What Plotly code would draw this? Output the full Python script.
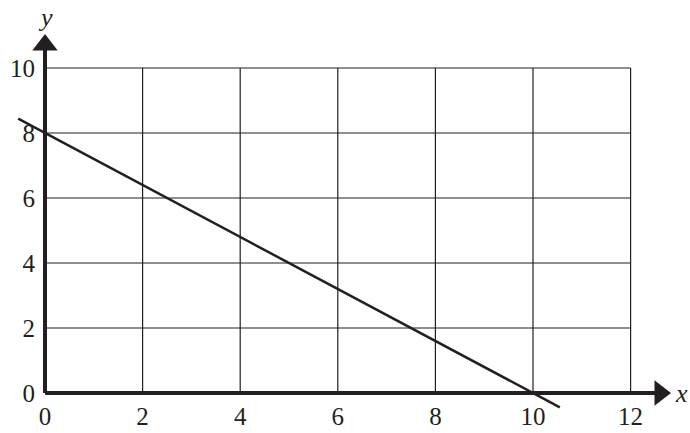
import plotly.graph_objects as go

# valores
x_ticks = [0, 2, 4, 6, 8, 10, 12]
y_ticks = [0, 2, 4, 6, 8, 10]
line_x = [-0.55, 10.55]
line_y = [8.44, -0.44]

INK = "#231f20"
FONT = "Liberation Serif, Times New Roman, serif"

W, H = 690, 433
# escala: px por unidade e posição da origem em px
px_x, px_y = 48.8, 32.5
ox, oy = 45, 393
x_range = [-ox / px_x, (W - ox) / px_x]
y_range = [-(H - oy) / px_y, oy / px_y]

fig = go.Figure()

# grade
shapes = []
for xv in x_ticks[1:]:
    shapes.append(dict(type="line", xref="x", yref="y", x0=xv, x1=xv,
                       y0=0, y1=max(y_ticks), line=dict(color=INK, width=1.2), layer="below"))
for yv in y_ticks[1:]:
    shapes.append(dict(type="line", xref="x", yref="y", x0=0, x1=max(x_ticks),
                       y0=yv, y1=yv, line=dict(color=INK, width=1.2), layer="below"))

# eixos com setas
x_end = (660 - ox) / px_x
y_end = (oy - 45) / px_y
fig.add_trace(go.Scatter(x=[0, x_end], y=[0, 0], mode="lines",
                         line=dict(color=INK, width=4), hoverinfo="skip"))
fig.add_trace(go.Scatter(x=[0, 0], y=[0, y_end], mode="lines",
                         line=dict(color=INK, width=4), hoverinfo="skip"))
fig.add_trace(go.Scatter(x=[x_end], y=[0], mode="markers",
                         marker=dict(symbol="triangle-right", size=22, color=INK), hoverinfo="skip"))
fig.add_trace(go.Scatter(x=[0], y=[y_end], mode="markers",
                         marker=dict(symbol="triangle-up", size=22, color=INK), hoverinfo="skip"))

# reta
fig.add_trace(go.Scatter(x=line_x, y=line_y, mode="lines",
                         line=dict(color=INK, width=2.5), hoverinfo="skip"))

fig.add_annotation(x=(681 - ox) / px_x, y=0, xref="x", yref="y", text="<i>x</i>",
                   showarrow=False, font=dict(family=FONT, size=26, color=INK))
fig.add_annotation(x=0, y=(oy - 17) / px_y, xref="x", yref="y", text="<i>y</i>",
                   showarrow=False, font=dict(family=FONT, size=26, color=INK))

tick_font = dict(family=FONT, size=25, color=INK)

fig.update_layout(
    width=W, height=H,
    margin=dict(l=0, r=0, t=0, b=0),
    paper_bgcolor="white", plot_bgcolor="white",
    showlegend=False,
    shapes=shapes,
    font=dict(family=FONT, size=25, color=INK),
    xaxis=dict(range=x_range, tickvals=x_ticks, showgrid=False, zeroline=False,
               showline=False, ticks="", anchor="free", position=(H - oy) / H,
               tickfont=tick_font, ticklabelstandoff=6, automargin=False, fixedrange=True),
    yaxis=dict(range=y_range, tickvals=y_ticks, showgrid=False, zeroline=False,
               showline=False, ticks="", anchor="free", position=ox / W,
               tickfont=tick_font, ticklabelstandoff=10, automargin=False, fixedrange=True),
)

# tira a margem padrão do body para o gráfico ficar no canto da janela
fig.write_html("out.html", config={"displayModeBar": False},
               post_script="document.body.style.margin='0';")
